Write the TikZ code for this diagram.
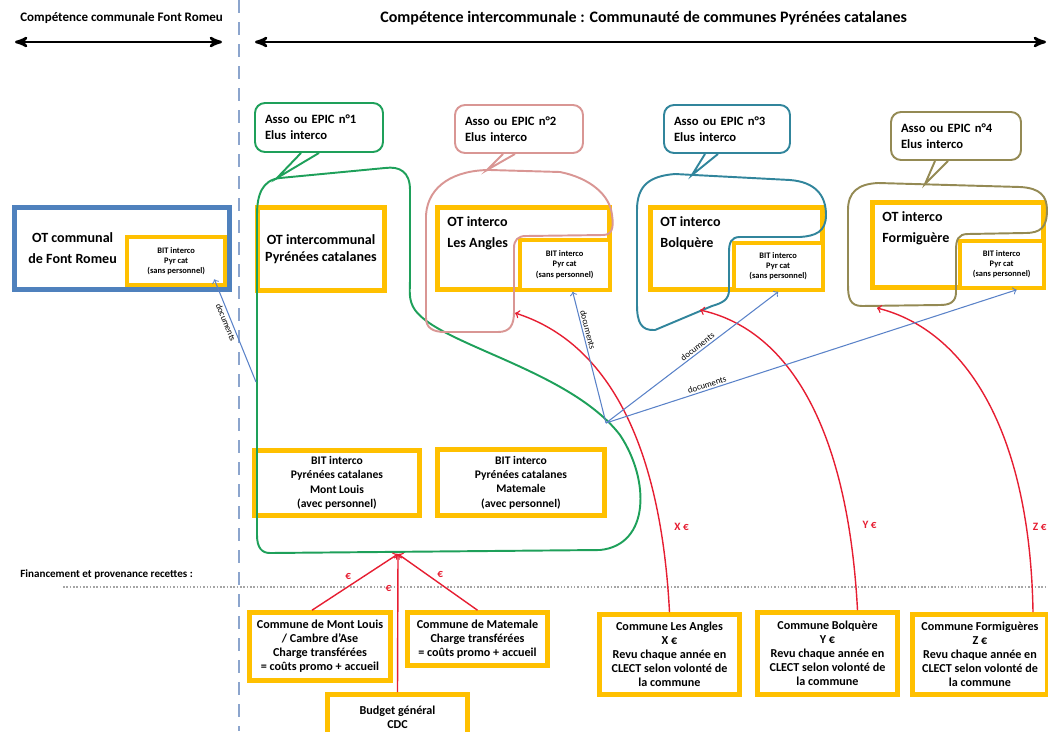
\documentclass[tikz,border=0pt]{standalone}
\usepackage{fontspec}
\setmainfont{Carlito}
\usetikzlibrary{arrows}

\definecolor{ocre}{RGB}{255,192,0}
\definecolor{otblue}{RGB}{79,129,189}
\definecolor{epicgreen}{RGB}{30,160,90}
\definecolor{epicpink}{RGB}{217,150,148}
\definecolor{epicteal}{RGB}{49,133,156}
\definecolor{epicolive}{RGB}{148,138,84}
\definecolor{money}{RGB}{230,30,50}
\definecolor{docblue}{RGB}{90,130,200}
\definecolor{sepline}{RGB}{140,165,205}

\begin{document}
\begin{tikzpicture}[x=0.2mm,y=-0.2mm,>=stealth',
    ot/.style={draw=ocre,line width=2.6pt,align=center,font=\bfseries\fontsize{8}{10}\selectfont},
    ot text/.style={align=left,font=\bfseries\fontsize{8}{12}\selectfont},
    bit/.style={draw=ocre,line width=2.4pt,fill=white,align=center,anchor=south east,inner sep=1pt,font=\bfseries\fontsize{4.8}{5.9}\selectfont},
    bitpc/.style={draw=ocre,line width=2.6pt,align=center,font=\bfseries\fontsize{6.6}{8.2}\selectfont},
    epic/.style={rounded corners=2mm,line width=1.1pt,fill=white,align=left,inner sep=2mm,font=\bfseries\fontsize{7.2}{9}\selectfont},
    commune/.style={draw=ocre,line width=2.6pt,fill=white,align=center,inner sep=1pt,font=\bfseries\fontsize{6.9}{7.9}\selectfont},
    zone/.style={line width=1.1pt},
    money link/.style={-to,draw=money,line width=0.8pt},
    money text/.style={text=money,font=\bfseries\fontsize{6.4}{7}\selectfont},
    doc link/.style={-to,draw=docblue,line width=0.6pt},
    doc text/.style={font=\fontsize{5}{6}\selectfont,inner sep=1pt},
    head/.style={anchor=west,inner sep=0pt,font=\bfseries\fontsize{9.1}{10}\selectfont}]

  \useasboundingbox (0,0) rectangle (1048,731);
  \draw[sepline,line width=1.2pt,dash pattern=on 2.6mm off 1.8mm] (239,0) -- (239,731);
  \draw[gray!70,line width=0.9pt,densely dotted] (63,587) -- (1048,587);

  \node[head,font=\bfseries\fontsize{7.4}{9}\selectfont] (commune head) at (20,18) {Compétence communale Font Romeu};
  \node[head] (interco head) at (380,18) {Compétence intercommunale : Communauté de communes Pyrénées catalanes};
  \coordinate (fr west) at (15,42);
  \coordinate (fr east) at (222,42);
  \coordinate (cc west) at (255,42);
  \coordinate (cc east) at (1046,42);
  \draw[<->,line width=1.4pt] (fr west) -- (fr east);
  \draw[<->,line width=1.4pt] (cc west) -- (cc east);
  \node[head,font=\bfseries\fontsize{6.3}{7}\selectfont] (financement) at (20,574) {Financement et provenance recettes :};

  \node[ot,draw=otblue,minimum width=43mm,minimum height=16.4mm,
        label={[ot text,align=center,anchor=west,xshift=2mm]west:{OT communal\\de Font Romeu}}] (Font Romeu) at (122,248.5) {};
  \node[bit,minimum width=19.6mm,minimum height=9.6mm,xshift=-0.9mm,yshift=0.9mm] (BIT Font Romeu) at (Font Romeu.south east) {BIT interco\\Pyr cat\\(sans personnel)};

  \node[ot,minimum width=25.4mm,minimum height=16.6mm] (OT Pyr cat) at (321,249) {OT intercommunal\\Pyrénées catalanes};
  \node[ot,minimum width=34.4mm,minimum height=16.4mm,
        label={[ot text,anchor=north west,xshift=1.2mm,yshift=-1mm]north west:{OT interco\\Les Angles}}] (Les Angles) at (523.5,248.5) {};
  \node[bit,minimum width=18mm,minimum height=10mm] (BIT Les Angles) at (Les Angles.south east) {BIT interco\\Pyr cat\\(sans personnel)};
  \node[ot,minimum width=34.4mm,minimum height=16.4mm,
        label={[ot text,anchor=north west,xshift=1.2mm,yshift=-1mm]north west:{OT interco\\Bolquère}}] (Bolquere) at (736.5,248.5) {};
  \node[bit,minimum width=17.8mm,minimum height=9.4mm] (BIT Bolquere) at (Bolquere.south east) {BIT interco\\Pyr cat\\(sans personnel)};
  \node[ot,minimum width=34.2mm,minimum height=17mm,
        label={[ot text,anchor=north west,xshift=1.2mm,yshift=-1mm]north west:{OT interco\\Formiguère}}] (Formiguere) at (958,245) {};
  \node[bit,minimum width=16.8mm,minimum height=9.4mm] (BIT Formiguere) at (Formiguere.south east) {BIT interco\\Pyr cat\\(sans personnel)};

  \node[bitpc,minimum width=33mm,minimum height=13mm] (BIT Mont Louis) at (337,483) {BIT interco\\Pyrénées catalanes\\Mont Louis\\(avec personnel)};
  \node[bitpc,minimum width=33.4mm,minimum height=13.2mm] (BIT Matemale) at (521,482.5) {BIT interco\\Pyrénées catalanes\\Matemale\\(avec personnel)};

  \node[commune,minimum width=28.2mm,minimum height=13.6mm] (Commune Mont Louis) at (320,646.5) {Commune de Mont Louis\\/ Cambre d’Ase\\Charge transférées\\= coûts promo + accueil};
  \node[commune,minimum width=28mm,minimum height=10.6mm] (Commune Matemale) at (477.5,639) {Commune de Matemale\\Charge transférées\\= coûts promo + accueil};
  \node[commune,minimum width=28mm,minimum height=9mm] (Budget) at (397.5,717) {Budget général\\CDC};
  \node[commune,minimum width=28mm,minimum height=16mm] (Commune Les Angles) at (669.5,654.5) {Commune Les Angles\\X €\\Revu chaque année en\\CLECT selon volonté de\\la commune};
  \node[commune,minimum width=28mm,minimum height=16.4mm] (Commune Bolquere) at (827.5,653.5) {Commune Bolquère\\Y €\\Revu chaque année en\\CLECT selon volonté de\\la commune};
  \node[commune,minimum width=27mm,minimum height=16mm] (Commune Formigueres) at (980,654.5) {Commune Formiguères\\Z €\\Revu chaque année en\\CLECT selon volonté de\\la commune};

  \draw[zone,epicgreen] (270,553) -- (600,550) .. controls (650,545) and (650,480) .. (620,435)
     .. controls (570,370) and (440,345) .. (415,310) .. controls (408,300) and (410,290) .. (410,280)
     -- (410,190) .. controls (410,172) and (400,166) .. (385,168) -- (280,178)
     .. controls (262,180) and (257,195) .. (257,215) -- (257,535) .. controls (257,548) and (262,553) .. (270,553) -- cycle;
  \draw[zone,epicpink] (445,332) -- (498,332) .. controls (510,332) and (514,325) .. (514,312) -- (514,248)
     .. controls (514,240) and (518,236) .. (526,236) -- (603,235) .. controls (612,235) and (614,228) .. (612,215)
     .. controls (610,195) and (590,178) .. (560,172) -- (490,170) .. controls (455,170) and (428,185) .. (426,215)
     -- (426,318) .. controls (426,328) and (433,332) .. (445,332) -- cycle;
  \draw[zone,epicteal] (655,330) .. controls (641,331) and (637,322) .. (637,305) -- (637,210)
     .. controls (637,185) and (650,176) .. (675,174) -- (790,180) .. controls (815,182) and (826,195) .. (826,215)
     .. controls (826,232) and (815,236) .. (800,237) -- (740,237) .. controls (731,237) and (729,243) .. (729,252)
     -- (729,290) .. controls (729,300) and (722,303) .. (712,306) -- cycle;
  \draw[zone,epicolive] (862,306) .. controls (850,306) and (848,298) .. (848,285) -- (848,210)
     .. controls (848,192) and (858,184) .. (878,183) -- (1020,187) .. controls (1040,188) and (1047,196) .. (1047,210)
     .. controls (1047,228) and (1040,233) .. (1025,233) -- (968,234) .. controls (958,234) and (956,240) .. (956,250)
     -- (956,292) .. controls (956,302) and (950,305) .. (940,305) -- cycle;

  \node[epic,draw=epicgreen,minimum height=9.8mm,text width=21.6mm] (EPIC 1) at (319,127.5) {Asso ou EPIC n°1\\Elus interco};
  \node[epic,draw=epicpink,minimum height=9.6mm,text width=21.6mm] (EPIC 2) at (519,129) {Asso ou EPIC n°2\\Elus interco};
  \node[epic,draw=epicteal,minimum height=9.6mm,text width=21.2mm] (EPIC 3) at (727,129) {Asso ou EPIC n°3\\Elus interco};
  \node[epic,draw=epicolive,minimum height=9.6mm,text width=22mm] (EPIC 4) at (956,136) {Asso ou EPIC n°4\\Elus interco};

  \coordinate (green tip) at (277,178);
  \coordinate (pink tip) at (487,170);
  \coordinate (teal tip) at (692,175);
  \coordinate (olive tip) at (925,184);
  \draw[zone,epicgreen] ([xshift=-3.6mm]EPIC 1.south) -- (green tip) -- (EPIC 1.south);
  \draw[zone,epicpink] ([xshift=-3.2mm]EPIC 2.south) -- (pink tip) -- ([xshift=-0.8mm]EPIC 2.south);
  \draw[zone,epicteal] ([xshift=-4.4mm]EPIC 3.south) -- (teal tip) -- ([xshift=-1.8mm]EPIC 3.south);
  \draw[zone,epicolive] ([xshift=-4.2mm]EPIC 4.south) -- (olive tip) -- ([xshift=-1.6mm]EPIC 4.south);

  \coordinate (green bottom) at (398,554);
  \coordinate (la in) at (515,313);
  \coordinate (bq in) at (700,310);
  \coordinate (fg in) at (877,308);
  \coordinate (hub) at (606,423);
  \coordinate (green left) at (256,382);

  \path (Commune Mont Louis.north) ++(-1.6mm,0) coordinate (ml out);
  \draw[money link] (ml out) -- node[money text,pos=0.42,above] {€} (green bottom);
  \draw[money link] (Budget.north) -- node[money text,pos=0.75,left] {€} (green bottom);
  \draw[money link] (Commune Matemale.north) -- node[money text,pos=0.47,above] {€} (green bottom);
  \draw[money link] (Commune Les Angles.north) .. controls (660,430) and (600,340) .. node[money text,pos=0.17,right=1.5mm] {X €} (la in);
  \draw[money link] ([xshift=6mm]Commune Bolquere.north) .. controls (848,430) and (790,330) .. node[money text,pos=0.17,right=1.5mm] {Y €} (bq in);
  \draw[money link] ([xshift=10.6mm]Commune Formigueres.north) .. controls (1030,430) and (965,330) .. node[money text,pos=0.17,right=0pt] {Z €} (fg in);

  \draw[doc link] (green left) -- node[doc text,sloped,below,pos=0.6] {documents} ([xshift=-2.6mm,yshift=1.6mm]BIT Font Romeu.south east);
  \draw[doc link] (hub) -- node[doc text,sloped,above,pos=0.7] {documents} ([xshift=1.6mm]BIT Les Angles.south);
  \draw[doc link] (hub) -- node[doc text,sloped,above,pos=0.55] {documents} (BIT Bolquere.south);
  \draw[doc link] (hub) -- node[doc text,sloped,above,pos=0.25] {documents} ([xshift=3mm]BIT Formiguere.south);
\end{tikzpicture}
\end{document}
